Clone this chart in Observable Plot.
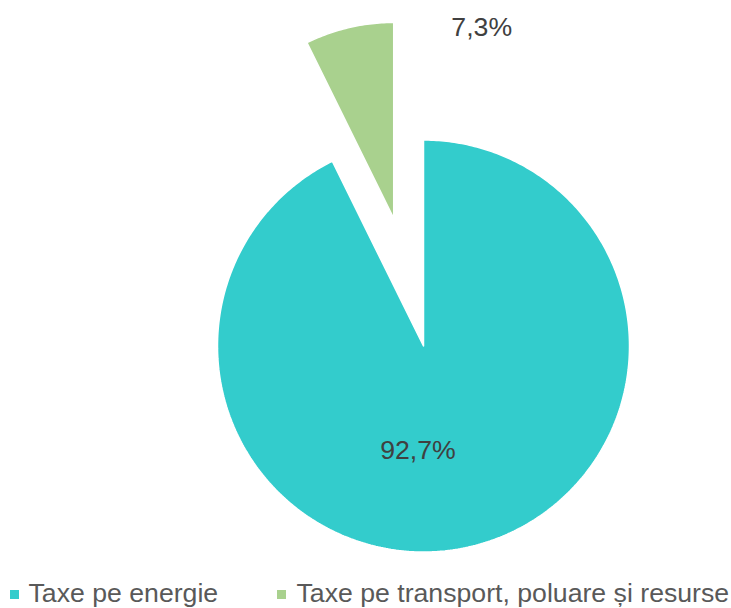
<!DOCTYPE html>
<html>
<head>
<meta charset="utf-8">
<script src="https://cdn.jsdelivr.net/npm/d3@7"></script>
<script src="https://cdn.jsdelivr.net/npm/@observablehq/plot@0.6"></script>
<style>
  html, body { margin: 0; padding: 0; background: #fff; }
  body { width: 731px; height: 608px; overflow: hidden; font-family: Arial, "Liberation Sans", sans-serif; }
  #chart svg { display: block; }
  .legend { position: absolute; top: 578px; left: 0; width: 731px; height: 30px; font-size: 26.67px; color: #595959; }
  .sw { position: absolute; width: 9px; height: 9px; top: 12px; }
  .lbl { position: absolute; top: 0; white-space: nowrap; }
</style>
</head>
<body>
<div id="chart"></div>
<div class="legend" id="legend"></div>
<script>
const categories = ["Taxe pe energie", "Taxe pe transport, poluare și resurse"];
const values = [92.7, 7.3];
const valueLabels = ["92,7%", "7,3%"];
const colors = ["#33CCCC", "#A9D18E"];

const W = 731, H = 578;
const cx = 423, cy = 345.5;
const radii = [206, 196];
const explode = [0, 131];

const pie = d3.pie().sort(null).value(d => d)(values);
const slices = pie.map((p, i) => {
  const mid = (p.startAngle + p.endAngle) / 2;
  const ox = explode[i] * Math.sin(mid), oy = -explode[i] * Math.cos(mid);
  const pts = [{x: cx + ox, y: cy + oy}];
  const n = Math.max(8, Math.ceil((p.endAngle - p.startAngle) * 80));
  for (let k = 0; k <= n; k++) {
    const a = p.startAngle + (p.endAngle - p.startAngle) * k / n;
    pts.push({x: cx + ox + radii[i] * Math.sin(a), y: cy + oy - radii[i] * Math.cos(a)});
  }
  pts.push({x: cx + ox, y: cy + oy});
  return {pts, ox, oy, mid, i};
});

// label placement: main inside (below center), small outside to the right of its slice
const labelPos = [
  {x: cx - 5.5, y: cy + 104.5, text: valueLabels[0]},
  {x: cx + slices[1].ox + 88, y: cy + slices[1].oy - 191, text: valueLabels[1]}
];

const marks = slices.map(s => Plot.line(s.pts, {
  x: "x", y: "y", fill: colors[s.i], stroke: "#fff", strokeWidth: 1.5, strokeLinejoin: "miter", curve: "linear"
}));
marks.push(Plot.text(labelPos, {
  x: "x", y: "y", text: "text", fill: "#404040", fontSize: 26.67, textAnchor: "middle", lineAnchor: "middle"
}));

const chart = Plot.plot({
  width: W, height: H,
  margin: 0,
  x: {type: "linear", domain: [0, W], range: [0, W], axis: null},
  y: {type: "linear", domain: [0, H], range: [0, H], axis: null},
  style: {fontFamily: 'Arial, "Liberation Sans", sans-serif', background: "#fff", overflow: "visible"},
  marks
});
document.getElementById("chart").appendChild(chart);

const legend = document.getElementById("legend");
const lx = [{sw: 10, tx: 28.5}, {sw: 277, tx: 296.5}];
categories.forEach((c, i) => {
  const sw = document.createElement("div");
  sw.className = "sw";
  sw.style.left = lx[i].sw + "px";
  sw.style.background = colors[i];
  legend.appendChild(sw);
  const t = document.createElement("div");
  t.className = "lbl";
  t.style.left = lx[i].tx + "px";
  t.style.lineHeight = "30px";
  t.textContent = c;
  legend.appendChild(t);
});
</script>
</body>
</html>
